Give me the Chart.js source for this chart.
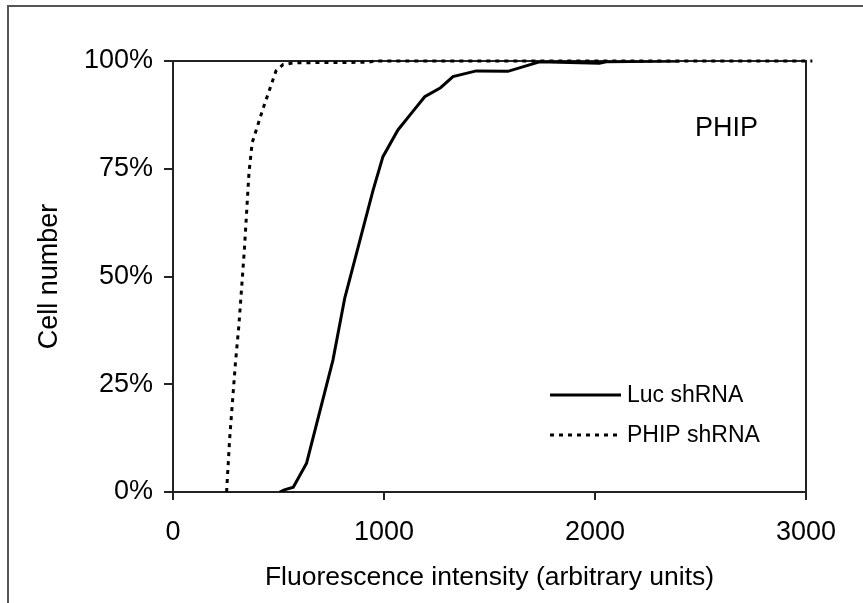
<!DOCTYPE html>
<html>
<head>
<meta charset="utf-8">
<script src="https://cdn.jsdelivr.net/npm/chart.js@4/dist/chart.umd.min.js"></script>
<style>
  html, body { margin: 0; padding: 0; background: #fff; }
  canvas { display: block; }
</style>
</head>
<body>
<canvas id="chartPhip" width="863" height="603"></canvas>
<script>
// cumulative distributions (x = intensity, y = % cells)
const lucX = [506, 528, 570, 633, 758, 814, 948, 995, 1066, 1137, 1193, 1268, 1327, 1437, 1587, 1737, 2021, 2053, 2400];
const lucY = [0, 0.5, 1.1, 6.7, 30.6, 45, 70, 77.8, 84, 88.3, 91.7, 93.8, 96.4, 97.7, 97.6, 99.8, 99.5, 99.8, 100];
const phipX = [254, 268, 296, 312, 338, 360, 375, 427, 488, 522, 577, 920, 960, 3030];
const phipY = [0, 12, 30, 38.5, 56, 74, 81, 89, 97.7, 99.2, 99.6, 99.7, 100, 100];
const xTicks = [0, 1000, 2000, 3000];
const yTicks = [0, 25, 50, 75, 100];

const FONT = "'Liberation Sans', Arial, sans-serif";
const INK = '#000';
const AXIS = '#222';

const toPoints = (xs, ys) => xs.map((x, i) => ({ x, y: ys[i] }));

// outer frame + plot box + legend + panel label
const decorPlugin = {
  id: 'decor',
  beforeDraw(chart) {
    const { ctx } = chart;
    ctx.save();
    ctx.fillStyle = '#fff';
    ctx.fillRect(0, 0, chart.width, chart.height);
    ctx.strokeStyle = '#555';
    ctx.lineWidth = 2;
    ctx.beginPath();
    ctx.moveTo(8, chart.height);
    ctx.lineTo(8, 6);
    ctx.lineTo(chart.width, 6);
    ctx.stroke();
    ctx.restore();
  },
  beforeDatasetsDraw(chart) {
    const { ctx, chartArea: a } = chart;
    ctx.save();
    ctx.strokeStyle = AXIS;
    ctx.lineWidth = 2;
    ctx.beginPath();
    ctx.moveTo(a.left, a.top);
    ctx.lineTo(a.right, a.top);
    ctx.lineTo(a.right, a.bottom);
    ctx.stroke();
    ctx.restore();
  },
  afterDraw(chart, args, opts) {
    const { ctx } = chart;
    ctx.save();
    ctx.fillStyle = INK;
    ctx.textBaseline = 'middle';
    ctx.textAlign = 'left';
    ctx.font = '27px ' + FONT;
    ctx.fillText(opts.panel, opts.panelX, opts.panelY);

    ctx.font = '23px ' + FONT;
    chart.data.datasets.forEach((ds, i) => {
      const y = opts.legendY + i * opts.legendRow;
      ctx.strokeStyle = ds.borderColor;
      ctx.lineWidth = ds.borderWidth;
      ctx.setLineDash(ds.borderDash || []);
      ctx.beginPath();
      ctx.moveTo(opts.legendX, y);
      ctx.lineTo(opts.legendX + opts.legendLine, y);
      ctx.stroke();
      ctx.fillText(ds.label, opts.legendX + opts.legendLine + 6, y + 1);
    });
    ctx.restore();
  },
};

new Chart(document.getElementById('chartPhip'), {
  type: 'line',
  data: {
    datasets: [
      {
        label: 'Luc shRNA',
        data: toPoints(lucX, lucY),
        borderColor: INK,
        borderWidth: 3,
        pointRadius: 0,
        tension: 0,
        fill: false,
      },
      {
        label: 'PHIP shRNA',
        data: toPoints(phipX, phipY),
        borderColor: INK,
        borderWidth: 3,
        borderDash: [4, 5],
        pointRadius: 0,
        tension: 0,
        fill: false,
        clip: false,
      },
    ],
  },
  options: {
    responsive: false,
    animation: false,
    layout: { padding: { top: 61, right: 57, left: 0, bottom: 0 } },
    plugins: {
      legend: { display: false },
      tooltip: { enabled: false },
      decor: {
        panel: 'PHIP',
        panelX: 695,
        panelY: 129,
        legendX: 550,
        legendY: 395,
        legendRow: 40,
        legendLine: 71,
      },
    },
    scales: {
      x: {
        type: 'linear',
        min: 0,
        max: 3000,
        afterBuildTicks: (scale) => { scale.ticks = xTicks.map((v) => ({ value: v })); },
        afterFit: (scale) => { scale.height = 111; },
        grid: { display: true, drawOnChartArea: false, drawTicks: true, tickLength: 8, color: AXIS, lineWidth: 2 },
        border: { display: true, color: AXIS, width: 2 },
        ticks: {
          color: INK,
          font: { family: FONT, size: 27 },
          padding: 16,
          maxRotation: 0,
          callback: (value) => String(value),
        },
        title: {
          display: true,
          text: 'Fluorescence intensity (arbitrary units)',
          color: INK,
          font: { family: FONT, size: 26.5 },
          padding: { top: 0, bottom: 9 },
        },
      },
      y: {
        type: 'linear',
        min: 0,
        max: 100,
        afterBuildTicks: (scale) => { scale.ticks = yTicks.map((v) => ({ value: v })); },
        afterFit: (scale) => { scale.width = 173; },
        grid: { display: true, drawOnChartArea: false, drawTicks: true, tickLength: 9, color: AXIS, lineWidth: 2 },
        border: { display: true, color: AXIS, width: 2 },
        ticks: {
          color: INK,
          font: { family: FONT, size: 27 },
          padding: 11,
          callback: (value) => value + '%',
        },
        title: {
          display: true,
          text: 'Cell number',
          color: INK,
          font: { family: FONT, size: 27 },
          padding: { top: 33, bottom: 0 },
        },
      },
    },
  },
  plugins: [decorPlugin],
});
</script>
</body>
</html>
